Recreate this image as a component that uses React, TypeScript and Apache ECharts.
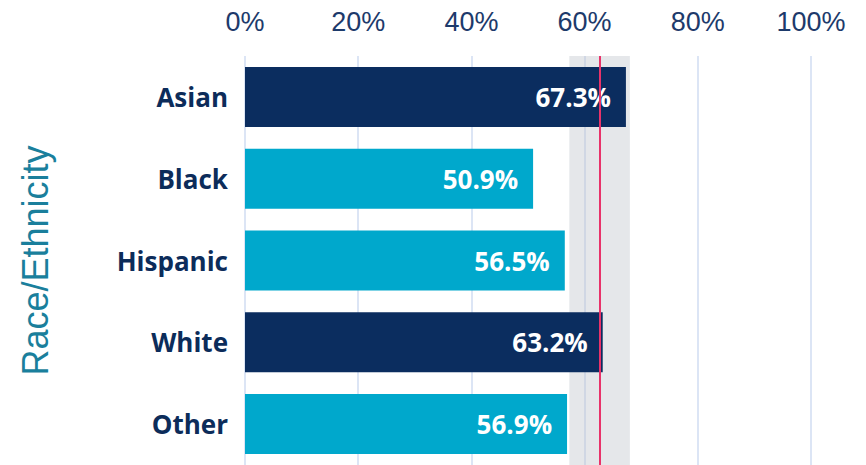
import React, { useEffect, useRef } from "react";
import * as echarts from "echarts";

const categories = ["Asian", "Black", "Hispanic", "White", "Other"];
const values = [67.3, 50.9, 56.5, 63.2, 56.9];
const barColors = ["#0b2d5f", "#00a8cc", "#00a8cc", "#0b2d5f", "#00a8cc"];
const bandRange = [57.3, 68.0];
const refLine = 62.6;
const xTicks = [0, 20, 40, 60, 80, 100];

export default function App() {
  const ref = useRef<HTMLDivElement>(null);
  useEffect(() => {
    if (!ref.current) return;
    const chart = echarts.init(ref.current, null, { renderer: "svg" });
    chart.setOption({
      animation: false,
      grid: { left: 245, right: 55, top: 56, bottom: 0, containLabel: false },
      xAxis: {
        type: "value",
        position: "top",
        min: xTicks[0],
        max: xTicks[xTicks.length - 1],
        interval: 20,
        axisLine: { show: false },
        axisTick: { show: false },
        axisLabel: {
          formatter: "{value}%",
          fontFamily: "Liberation Sans",
          fontSize: 27,
          color: "#1d3a6b",
          margin: 21,
        },
        splitLine: { show: true, lineStyle: { color: "#d0dcf2", width: 1.5 } },
      },
      yAxis: {
        type: "category",
        data: categories,
        inverse: true,
        axisLine: { show: false },
        axisTick: { show: false },
        axisLabel: {
          fontFamily: "Open Sans",
          fontWeight: "bold",
          fontSize: 26,
          color: "#0c2c5a",
          margin: 17,
        },
        name: "Race/Ethnicity",
        nameLocation: "middle",
        nameRotate: 90,
        nameGap: 192,
        nameTextStyle: {
          fontFamily: "Liberation Sans",
          fontSize: 36,
          color: "#1a7f9c",
        },
      },
      series: [
        {
          type: "bar",
          data: values.map((v, i) => ({ value: v, itemStyle: { color: barColors[i] } })),
          barWidth: 60,
          label: {
            show: true,
            position: "insideRight",
            distance: 15,
            formatter: "{c}%",
            color: "#ffffff",
            fontFamily: "Open Sans",
            fontWeight: "bold",
            fontSize: 26,
          },
          markArea: {
            silent: true,
            itemStyle: { color: "rgba(190,194,202,0.4)" },
            data: [[{ xAxis: bandRange[0] }, { xAxis: bandRange[1] }]],
          },
          markLine: {
            silent: true,
            symbol: ["none", "none"],
            label: { show: false },
            lineStyle: { color: "#e8336a", width: 2, type: "solid" },
            data: [{ xAxis: refLine }],
          },
        },
      ],
    });
    return () => chart.dispose();
  }, []);
  return (
    <div
      ref={ref}
      style={{ position: "fixed", left: 0, top: 0, width: 866, height: 465, background: "#ffffff" }}
    />
  );
}
